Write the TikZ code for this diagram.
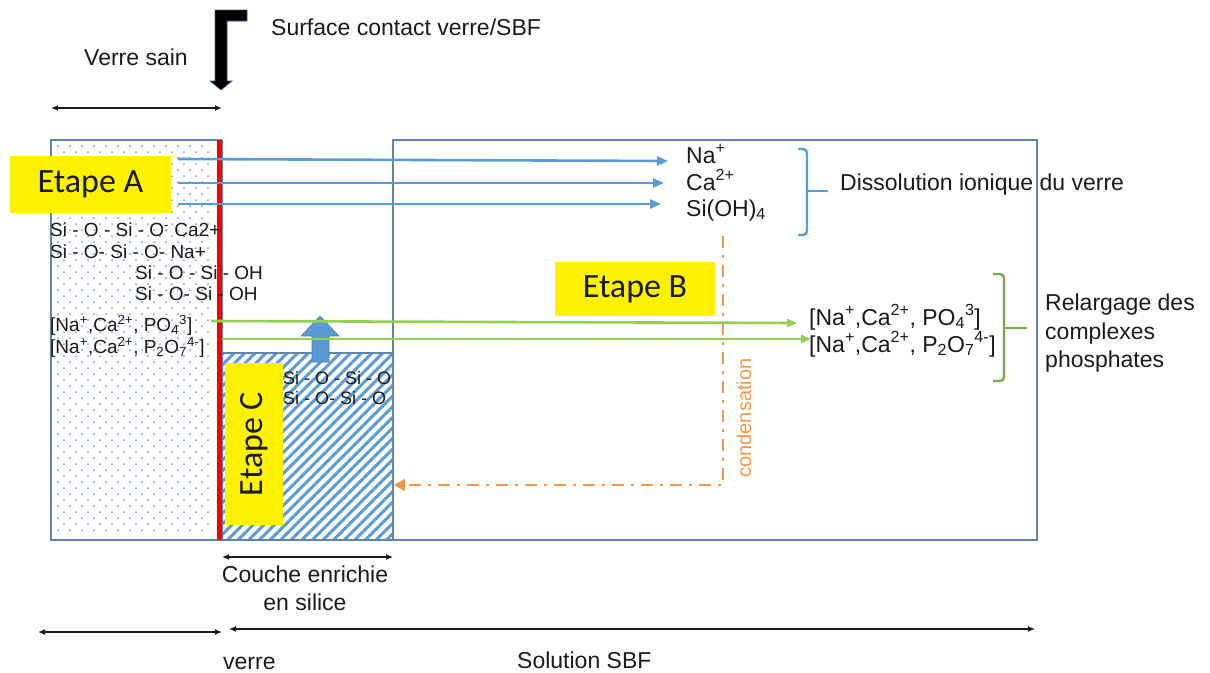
\documentclass[tikz,border=0pt]{standalone}
\usepackage{fontspec}
\setmainfont{Liberation Sans}
\newfontfamily\carlito{Carlito}
\usetikzlibrary{patterns.meta,arrows.meta,calc}
\definecolor{boxblue}{HTML}{5F83B3}
\definecolor{arrblue}{HTML}{5B9BD5}
\definecolor{dotblue}{HTML}{6E9ED8}
\definecolor{lgreen}{HTML}{92D050}
\definecolor{bgreen}{HTML}{70AD47}
\definecolor{orng}{HTML}{F79646}
\definecolor{ink}{HTML}{1A1A1A}
\begin{document}
\begin{tikzpicture}[x=1pt,y=-1pt,
  txt/.style={inner sep=0pt, text=ink, anchor=base west, font=\fontsize{23}{27}\selectfont},
  stxt/.style={inner sep=0pt, text=ink, anchor=base west, font=\fontsize{19}{22}\selectfont},
  htxt/.style={inner sep=0pt, text=ink, anchor=base west, font=\fontsize{18}{22}\selectfont},
  etape/.style={fill=yellow, inner sep=0pt, text=ink, font=\carlito\fontsize{34}{40}\selectfont},
  bluearr/.style={draw=arrblue, line width=2.6pt, -{Triangle[length=11pt,width=9pt]}},
  greenarr/.style={draw=lgreen, line width=2.6pt, -{Triangle[length=10pt,width=8pt]}},
  dimarr/.style={draw=ink, line width=1.3pt, {Latex[length=7pt,width=6pt]}-{Latex[length=7pt,width=6pt]}},
  bbox/.style={draw=boxblue, line width=1.4pt},
]
\useasboundingbox (0,0) rectangle (1210,672);

% dotted glass region
\foreach \r in {0,...,64} {
  \foreach \c in {0,...,12} {
    \fill[dotblue] ({58+12*\c+6*mod(\r,2)}, {146+6*\r}) circle (1.0);
  }
}
% hatched silica layer
\fill[pattern={Lines[angle=45,distance=7.5pt,line width=3pt]}, pattern color=arrblue] (222,353) rectangle (393,540);

% boxes
\draw[bbox] (222,140) -- (51,140) -- (51,540) -- (1037,540) -- (1037,140) -- (393,140) -- (393,540);
\draw[bbox] (222,140) -- (222,540);
\draw[bbox] (222,353) -- (393,353);

% red interface
\draw[red, line width=5pt] (219.5,140) -- (219.5,540);

% up arrow
\filldraw[fill=arrblue, draw=arrblue!85!black, line width=0.6pt]
  (312,362) -- (312,336) -- (301,336) -- (320,316) -- (339,336) -- (329,336) -- (329,362) -- cycle;

% top black arrow
\filldraw[fill=black, draw=boxblue!70!black, line width=0.6pt]
  (215,10) -- (247,10) -- (247,21) -- (227,21) -- (227,81) -- (232,81) -- (221,90) -- (210,81) -- (215,81) -- cycle;

% texts top
\node[txt] (vs) at (84,65) {Verre sain};
\node[txt] (sc) at (271,35) {Surface contact verre/SBF};
\coordinate (vsl) at (51,108);
\coordinate (vsr) at (222,108);
\draw[dimarr] (vsl) -- (vsr);

% left column texts
\node[stxt] (l1) at (50,236) {Si - O - Si - O\textsuperscript{-} Ca2+};
\node[stxt] (l2) at (50,258) {Si - O- Si - O- Na+};
\node[stxt] (l3) at (135,279) {Si - O - Si - OH};
\node[stxt] (l4) at (135,300) {Si - O- Si - OH};
\node[stxt] (l5) at (50,331) {[Na\textsuperscript{+},Ca\textsuperscript{2+}, PO\textsubscript{4}\textsuperscript{3}]};
\node[stxt] (l6) at (50,353) {[Na\textsuperscript{+},Ca\textsuperscript{2+}, P\textsubscript{2}O\textsubscript{7}\textsuperscript{4-}]};

% ions released
\node[txt] (na) at (686,163) {Na\textsuperscript{+}};
\node[txt] (ca) at (686,190) {Ca\textsuperscript{2+}};
\node[txt] (si) at (686,216) {Si(OH)\textsubscript{4}};
\coordinate (a1s) at (178,159);
\coordinate (a1e) at (668,161);
\coordinate (a2s) at (178,183);
\coordinate (a2e) at (664,183);
\coordinate (a3s) at (178,204);
\coordinate (a3e) at (661,204);
\draw[bluearr] (a1s) -- (a1e);
\draw[bluearr] (a2s) -- (a2e);
\draw[bluearr] (a3s) -- (a3e);

% blue bracket
\draw[draw=arrblue, line width=2.4pt, rounded corners=4pt] (798,149) -- (807,149) -- (807,235) -- (798,235);
\coordinate (bt) at (807,191);
\coordinate (bte) at (828,191);
\draw[draw=arrblue, line width=2.4pt] (bt) -- (bte);
\node[txt] (diss) at (840,190) {Dissolution ionique du verre};

% phosphate complexes
\node[txt] (p1) at (809,325) {[Na\textsuperscript{+},Ca\textsuperscript{2+}, PO\textsubscript{4}\textsuperscript{3}]};
\node[txt] (p2) at (809,352) {[Na\textsuperscript{+},Ca\textsuperscript{2+}, P\textsubscript{2}O\textsubscript{7}\textsuperscript{4-}]};
\coordinate (g1s) at (211,321);
\coordinate (g1e) at (797,323);
\coordinate (g2s) at (222,339);
\coordinate (g2e) at (811,339);
\draw[greenarr] (g1s) -- (g1e);
\draw[greenarr] (g2s) -- (g2e);
\draw[draw=bgreen, line width=2.4pt, rounded corners=4pt] (993,274) -- (1004,274) -- (1004,381) -- (993,381);
\coordinate (gt) at (1004,328);
\coordinate (gte) at (1027,328);
\draw[draw=bgreen, line width=2.4pt] (gt) -- (gte);
\node[txt] (r1) at (1045,310) {Relargage des};
\node[txt] (r2) at (1045,339) {complexes};
\node[txt] (r3) at (1045,367) {phosphates};

% condensation path
\coordinate (c1) at (723,236);
\coordinate (c2) at (723,485);
\coordinate (c3) at (394,485);
\draw[draw=orng, line width=2.4pt, dash pattern=on 12pt off 7pt on 3pt off 7pt, -{Triangle[length=11pt,width=12pt]}] (c1) -- (c2) -- (c3);
\node[inner sep=0pt, text=orng, rotate=90, font=\fontsize{20}{24}\selectfont] (cond) at (744,418) {condensation};

% silica layer texts
\node[htxt] (h1) at (283,384) {Si - O - Si - O};
\node[htxt] (h2) at (283,404) {Si - O- Si - O};

% etape boxes
\node[etape, minimum width=161pt, minimum height=57pt] (eA) at (90.5,184.5) {Etape A};
\node[etape, minimum width=160pt, minimum height=54pt] (eB) at (635,289) {Etape B};
\node[etape, minimum width=162pt, minimum height=58pt, rotate=90] (eC) at (254,444) {Etape C};

% bottom dimensions
\coordinate (cl) at (222,557);
\coordinate (cr) at (393,557);
\draw[dimarr] (cl) -- (cr);
\node[txt, anchor=base] (ce1) at (305,582) {Couche enrichie};
\node[txt, anchor=base] (ce2) at (305,610) {en silice};
\coordinate (b1) at (38,632);
\coordinate (b2) at (222,632);
\coordinate (b3) at (229,629);
\coordinate (b4) at (1035,629);
\draw[dimarr] (b1) -- (b2);
\draw[dimarr] (b3) -- (b4);
\node[txt] (ve) at (223,669) {verre};
\node[txt] (ss) at (517,668) {Solution SBF};
\end{tikzpicture}
\end{document}
